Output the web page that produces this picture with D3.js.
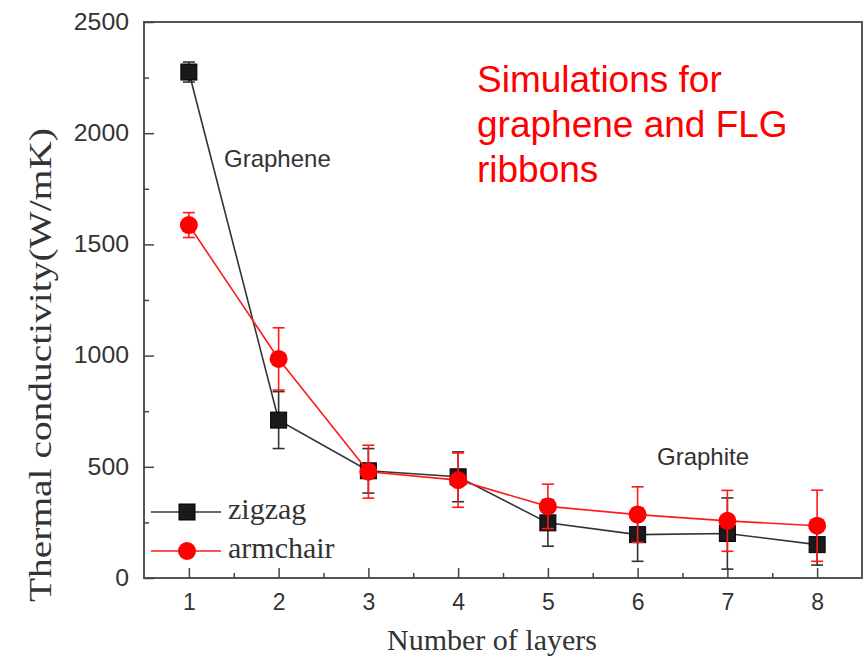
<!DOCTYPE html>
<html>
<head>
<meta charset="utf-8">
<script src="https://cdn.jsdelivr.net/npm/d3@7/dist/d3.min.js"></script>
<style>
  html, body { margin: 0; padding: 0; background: #fff; }
  svg { display: block; }
</style>
</head>
<body>
<svg id="chart" width="865" height="660"></svg>
<script>
// ---- data ----
const layers = [1, 2, 3, 4, 5, 6, 7, 8];
const zigzag = [2275, 710, 482, 455, 248, 195, 200, 150];
const zigzagErr = [45, 128, 100, 112, 105, 120, 160, 92];
const armchair = [1587, 985, 478, 440, 322, 285, 257, 235];
const armchairErr = [56, 140, 119, 122, 100, 125, 137, 160];
const yTicks = [0, 500, 1000, 1500, 2000, 2500];
const yMinorTicks = [250, 750, 1250, 1750, 2250];
const xTicks = [1, 2, 3, 4, 5, 6, 7, 8];
const xMinorTicks = [1.5, 2.5, 3.5, 4.5, 5.5, 6.5, 7.5];
const seriesNames = ["zigzag", "armchair"];
const annotation = ["Simulations for", "graphene and FLG", "ribbons"];

// ---- layout ----
const svg = d3.select("#chart");
const L = 144, R = 862, T = 22, B = 578;
const x = d3.scaleLinear().domain([0.5, 8.5]).range([L, R]);
const y = d3.scaleLinear().domain([0, 2500]).range([B, T]);
const axisColor = "#444";
const sans = "'Liberation Sans', Arial, sans-serif";
const serif = "'Liberation Serif', 'Times New Roman', serif";

// frame
svg.append("rect").attr("x", L).attr("y", T).attr("width", R - L).attr("height", B - T)
  .attr("fill", "none").attr("stroke", "#555").attr("stroke-width", 2);

// axes
function styleAxis(g) {
  g.select(".domain").remove();
  g.selectAll(".tick line").attr("stroke", axisColor).attr("stroke-width", 1.5);
  g.selectAll(".tick text").attr("fill", "#333").style("font-family", sans).style("font-size", "23px");
}
svg.append("g").attr("transform", `translate(${L},0)`)
  .call(d3.axisLeft(y).tickValues(yTicks).tickSize(-10).tickPadding(15).tickFormat(d3.format("d")))
  .call(styleAxis)
  .call(g => g.selectAll(".tick text").attr("textLength", function(d) { return String(d).length * 13.8; })
    .attr("lengthAdjust", "spacingAndGlyphs"));
svg.append("g").attr("transform", `translate(${L},0)`)
  .call(d3.axisLeft(y).tickValues(yMinorTicks).tickSize(-5).tickFormat(""))
  .call(styleAxis);
svg.append("g").attr("transform", `translate(0,${B})`)
  .call(d3.axisBottom(x).tickValues(xTicks).tickSize(-10).tickPadding(16).tickFormat(d3.format("d")))
  .call(styleAxis);
svg.append("g").attr("transform", `translate(0,${B})`)
  .call(d3.axisBottom(x).tickValues(xMinorTicks).tickSize(-5).tickFormat(""))
  .call(styleAxis);

// axis titles
svg.append("text")
  .attr("transform", `translate(51,${365}) rotate(-90)`)
  .attr("text-anchor", "middle")
  .attr("fill", "#333")
  .style("font-family", serif).style("font-size", "32px")
  .attr("textLength", 474).attr("lengthAdjust", "spacingAndGlyphs")
  .text("Thermal conductivity(W/mK)");
svg.append("text")
  .attr("x", 492).attr("y", 650)
  .attr("text-anchor", "middle")
  .attr("fill", "#333")
  .style("font-family", serif).style("font-size", "29px")
  .attr("textLength", 210).attr("lengthAdjust", "spacingAndGlyphs")
  .text("Number of layers");

// series
const series = [
  { name: seriesNames[0], vals: zigzag, err: zigzagErr, color: "#333", fill: "#1a1a1a", shape: "square" },
  { name: seriesNames[1], vals: armchair, err: armchairErr, color: "#ff1a1a", fill: "#ff0000", shape: "circle" }
];
const line = d3.line().x((d, i) => x(layers[i])).y(d => y(d));
const capW = 6;

series.forEach(s => {
  const g = svg.append("g");
  g.append("path").datum(s.vals).attr("d", line)
    .attr("fill", "none").attr("stroke", s.color).attr("stroke-width", 1.6);
  const eb = g.selectAll(".eb").data(s.vals).enter().append("g");
  eb.append("line")
    .attr("x1", (d, i) => x(layers[i])).attr("x2", (d, i) => x(layers[i]))
    .attr("y1", (d, i) => y(d - s.err[i])).attr("y2", (d, i) => y(d + s.err[i]))
    .attr("stroke", s.color).attr("stroke-width", 1.6);
  [-1, 1].forEach(sign => {
    eb.append("line")
      .attr("x1", (d, i) => x(layers[i]) - capW).attr("x2", (d, i) => x(layers[i]) + capW)
      .attr("y1", (d, i) => y(d + sign * s.err[i])).attr("y2", (d, i) => y(d + sign * s.err[i]))
      .attr("stroke", s.color).attr("stroke-width", 1.6);
  });
  if (s.shape === "square") {
    g.selectAll(".m").data(s.vals).enter().append("rect")
      .attr("x", (d, i) => x(layers[i]) - 8).attr("y", d => y(d) - 8)
      .attr("width", 16).attr("height", 16)
      .attr("fill", s.fill).attr("stroke", "#000").attr("stroke-width", 1);
  } else {
    g.selectAll(".m").data(s.vals).enter().append("circle")
      .attr("cx", (d, i) => x(layers[i])).attr("cy", d => y(d)).attr("r", 9)
      .attr("fill", s.fill);
  }
});

// legend
const leg = svg.append("g");
series.forEach((s, k) => {
  const ly = 512 + k * 39;
  leg.append("line").attr("x1", 151).attr("x2", 221).attr("y1", ly).attr("y2", ly)
    .attr("stroke", s.color).attr("stroke-width", 1.6);
  if (s.shape === "square") {
    leg.append("rect").attr("x", 187 - 8).attr("y", ly - 8).attr("width", 16).attr("height", 16)
      .attr("fill", s.fill).attr("stroke", "#000");
  } else {
    leg.append("circle").attr("cx", 187).attr("cy", ly).attr("r", 9).attr("fill", s.fill);
  }
  leg.append("text").attr("x", 228).attr("y", ly + 7)
    .attr("fill", "#333").style("font-family", serif).style("font-size", "30px")
    .text(s.name);
});

// annotations
svg.append("text").attr("x", 224).attr("y", 167)
  .attr("fill", "#333").style("font-family", sans).style("font-size", "24px").text("Graphene");
svg.append("text").attr("x", 657).attr("y", 465)
  .attr("fill", "#333").style("font-family", sans).style("font-size", "24px").text("Graphite");
annotation.forEach((t, i) => {
  svg.append("text").attr("x", 477).attr("y", 92 + i * 45)
    .attr("fill", "#ff0000").style("font-family", sans).style("font-size", "37px").text(t);
});
</script>
</body>
</html>
